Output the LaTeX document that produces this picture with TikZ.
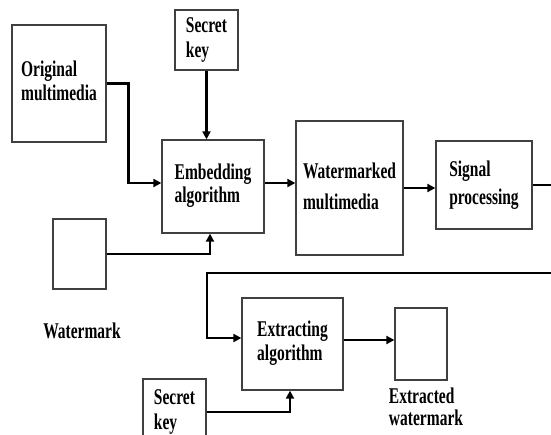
\documentclass[tikz,border=0pt]{standalone}
\usepackage{fontspec}
\setmainfont{Liberation Serif}
\usetikzlibrary{arrows.meta}
\newcommand{\lbl}[2]{\scalebox{1}[1.45]{\renewcommand{\arraystretch}{#1}\begin{tabular}{@{}l@{}}#2\end{tabular}}}
\begin{document}
\begin{tikzpicture}[x=1pt,y=-1pt,
  txt/.style={font=\fontsize{15.5}{16}\selectfont\bfseries},
  box/.style={txt, draw=black!75, line width=1.3pt, fill=white, inner sep=0pt},
  lab/.style={txt, inner sep=0pt},
  arr/.style={line width=2.6pt, line join=miter, -{Triangle[length=8pt,width=8pt]}}]
\useasboundingbox (0,0) rectangle (551,434);
\clip (0,0) rectangle (551,434);
\fill[white] (0,0) rectangle (551,434);

\node[box, minimum width=94pt, minimum height=117pt] (orig) at (59,83.5) {\lbl{1.05}{Original\\multimedia}};
\node[box, minimum width=63pt, minimum height=60pt] (key1) at (206.5,40) {\lbl{1.08}{Secret\\key}};
\node[box, minimum width=102pt, minimum height=93pt] (emb) at (213,186.5) {\lbl{1.0}{Embedding\\algorithm}};
\node[box, minimum width=107pt, minimum height=134pt] (wmm) at (349.5,188) {\lbl{1.35}{Watermarked\\multimedia}};
\node[box, minimum width=96pt, minimum height=88pt] (sig) at (484,185) {\lbl{1.18}{Signal\\processing}};
\node[box, minimum width=53pt, minimum height=70pt] (wm) at (79.5,254) {};
\node[lab] (wmlab) at (82,334) {\lbl{1}{Watermark}};
\node[box, minimum width=101pt, minimum height=92pt] (ext) at (292.5,344) {\lbl{1.03}{Extracting\\algorithm}};
\node[box, minimum width=52pt, minimum height=72pt] (xw) at (421,344) {};
\node[lab] (xwlab) at (426,410) {\lbl{0.95}{Extracted\\watermark}};
\node[box, minimum width=63pt, minimum height=66pt] (key2) at (174.5,412) {\raisebox{4pt}{\lbl{1.1}{Secret\\key}}};

\coordinate (off1) at (570,185);
\coordinate (off2) at (570,273);
\coordinate (back) at (207,273);

\draw[arr] (orig.east) -- ++(22,0) |- ([yshift=3.5pt]emb.west);
\draw[arr] (key1.south) -- (key1.south |- emb.north);
\draw[arr] (wm.east) -| ([xshift=-3pt]emb.south);
\draw[arr] ([yshift=3.5pt]emb.east) -- ([yshift=3.5pt]emb.east -| wmm.west);
\draw[arr] (wmm.east) -- (wmm.east -| sig.west);
\draw[arr] (sig.east) -- (off1) -- (off2) -- (back) |- ([yshift=6pt]ext.west);
\draw[arr] ([yshift=4pt]ext.east) -- ([yshift=4pt]ext.east -| xw.west);
\draw[arr] (key2.east) -| ([xshift=-2.5pt]ext.south);
\end{tikzpicture}
\end{document}
